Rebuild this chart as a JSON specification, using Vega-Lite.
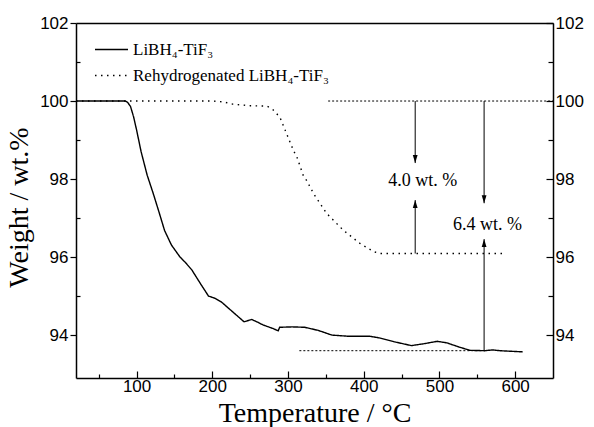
{
  "$schema": "https://vega.github.io/schema/vega-lite/v6.json",
  "width": 477,
  "height": 355,
  "autosize": {"type": "none"},
  "padding": {"left": 76, "top": 23, "right": 41, "bottom": 49},
  "background": "white",
  "config": {
    "view": {"stroke": null},
    "axis": {
      "domainColor": "black", "tickColor": "black", "labelColor": "black", "titleColor": "black",
      "grid": false, "labelFont": "Liberation Sans", "labelFontSize": 17,
      "titleFont": "Liberation Serif", "titleFontSize": 28, "titleFontWeight": "normal",
      "domainWidth": 1.5, "tickWidth": 1.2, "labelOverlap": false, "labelFlush": false
    }
  },
  "datasets": {
    "curves": [
      {"T": 20, "w": 100, "s": "LiBH₄-TiF₃"},
      {"T": 60, "w": 100, "s": "LiBH₄-TiF₃"},
      {"T": 85, "w": 100, "s": "LiBH₄-TiF₃"},
      {"T": 88, "w": 99.97, "s": "LiBH₄-TiF₃"},
      {"T": 92, "w": 99.86, "s": "LiBH₄-TiF₃"},
      {"T": 96, "w": 99.6, "s": "LiBH₄-TiF₃"},
      {"T": 100, "w": 99.26, "s": "LiBH₄-TiF₃"},
      {"T": 106, "w": 98.7, "s": "LiBH₄-TiF₃"},
      {"T": 114, "w": 98.1, "s": "LiBH₄-TiF₃"},
      {"T": 122, "w": 97.63, "s": "LiBH₄-TiF₃"},
      {"T": 130, "w": 97.13, "s": "LiBH₄-TiF₃"},
      {"T": 137, "w": 96.68, "s": "LiBH₄-TiF₃"},
      {"T": 146, "w": 96.31, "s": "LiBH₄-TiF₃"},
      {"T": 157, "w": 96.01, "s": "LiBH₄-TiF₃"},
      {"T": 165, "w": 95.85, "s": "LiBH₄-TiF₃"},
      {"T": 173, "w": 95.67, "s": "LiBH₄-TiF₃"},
      {"T": 184, "w": 95.33, "s": "LiBH₄-TiF₃"},
      {"T": 195, "w": 95.0, "s": "LiBH₄-TiF₃"},
      {"T": 204, "w": 94.94, "s": "LiBH₄-TiF₃"},
      {"T": 212, "w": 94.85, "s": "LiBH₄-TiF₃"},
      {"T": 219, "w": 94.73, "s": "LiBH₄-TiF₃"},
      {"T": 232, "w": 94.51, "s": "LiBH₄-TiF₃"},
      {"T": 242, "w": 94.34, "s": "LiBH₄-TiF₃"},
      {"T": 252, "w": 94.4, "s": "LiBH₄-TiF₃"},
      {"T": 260, "w": 94.33, "s": "LiBH₄-TiF₃"},
      {"T": 267, "w": 94.26, "s": "LiBH₄-TiF₃"},
      {"T": 280, "w": 94.17, "s": "LiBH₄-TiF₃"},
      {"T": 287, "w": 94.11, "s": "LiBH₄-TiF₃"},
      {"T": 289, "w": 94.2, "s": "LiBH₄-TiF₃"},
      {"T": 305, "w": 94.21, "s": "LiBH₄-TiF₃"},
      {"T": 322, "w": 94.2, "s": "LiBH₄-TiF₃"},
      {"T": 340, "w": 94.12, "s": "LiBH₄-TiF₃"},
      {"T": 358, "w": 94.0, "s": "LiBH₄-TiF₃"},
      {"T": 380, "w": 93.97, "s": "LiBH₄-TiF₃"},
      {"T": 408, "w": 93.97, "s": "LiBH₄-TiF₃"},
      {"T": 420, "w": 93.93, "s": "LiBH₄-TiF₃"},
      {"T": 440, "w": 93.83, "s": "LiBH₄-TiF₃"},
      {"T": 463, "w": 93.73, "s": "LiBH₄-TiF₃"},
      {"T": 480, "w": 93.78, "s": "LiBH₄-TiF₃"},
      {"T": 497, "w": 93.84, "s": "LiBH₄-TiF₃"},
      {"T": 510, "w": 93.8, "s": "LiBH₄-TiF₃"},
      {"T": 525, "w": 93.7, "s": "LiBH₄-TiF₃"},
      {"T": 540, "w": 93.61, "s": "LiBH₄-TiF₃"},
      {"T": 560, "w": 93.6, "s": "LiBH₄-TiF₃"},
      {"T": 570, "w": 93.62, "s": "LiBH₄-TiF₃"},
      {"T": 580, "w": 93.6, "s": "LiBH₄-TiF₃"},
      {"T": 600, "w": 93.58, "s": "LiBH₄-TiF₃"},
      {"T": 610, "w": 93.57, "s": "LiBH₄-TiF₃"},
      {"T": 20, "w": 100, "s": "Rehydrogenated LiBH₄-TiF₃"},
      {"T": 150, "w": 100, "s": "Rehydrogenated LiBH₄-TiF₃"},
      {"T": 200, "w": 100, "s": "Rehydrogenated LiBH₄-TiF₃"},
      {"T": 214, "w": 99.98, "s": "Rehydrogenated LiBH₄-TiF₃"},
      {"T": 227, "w": 99.92, "s": "Rehydrogenated LiBH₄-TiF₃"},
      {"T": 250, "w": 99.88, "s": "Rehydrogenated LiBH₄-TiF₃"},
      {"T": 272, "w": 99.87, "s": "Rehydrogenated LiBH₄-TiF₃"},
      {"T": 279, "w": 99.8, "s": "Rehydrogenated LiBH₄-TiF₃"},
      {"T": 285, "w": 99.68, "s": "Rehydrogenated LiBH₄-TiF₃"},
      {"T": 290, "w": 99.55, "s": "Rehydrogenated LiBH₄-TiF₃"},
      {"T": 298, "w": 99.17, "s": "Rehydrogenated LiBH₄-TiF₃"},
      {"T": 307, "w": 98.74, "s": "Rehydrogenated LiBH₄-TiF₃"},
      {"T": 312, "w": 98.55, "s": "Rehydrogenated LiBH₄-TiF₃"},
      {"T": 320, "w": 98.1, "s": "Rehydrogenated LiBH₄-TiF₃"},
      {"T": 325, "w": 97.95, "s": "Rehydrogenated LiBH₄-TiF₃"},
      {"T": 334, "w": 97.62, "s": "Rehydrogenated LiBH₄-TiF₃"},
      {"T": 351, "w": 97.12, "s": "Rehydrogenated LiBH₄-TiF₃"},
      {"T": 373, "w": 96.69, "s": "Rehydrogenated LiBH₄-TiF₃"},
      {"T": 395, "w": 96.35, "s": "Rehydrogenated LiBH₄-TiF₃"},
      {"T": 413, "w": 96.14, "s": "Rehydrogenated LiBH₄-TiF₃"},
      {"T": 421, "w": 96.09, "s": "Rehydrogenated LiBH₄-TiF₃"},
      {"T": 588, "w": 96.09, "s": "Rehydrogenated LiBH₄-TiF₃"}
    ],
    "guides": [
      {"x1": 353, "x2": 650, "y": 100},
      {"x1": 315, "x2": 560, "y": 93.6}
    ],
    "arrows": [
      {"x": 468, "y1": 100, "y2": 98.41, "dir": "down"},
      {"x": 468, "y1": 96.09, "y2": 97.46, "dir": "up"},
      {"x": 559, "y1": 100, "y2": 97.38, "dir": "down"},
      {"x": 559, "y1": 93.6, "y2": 96.46, "dir": "up"}
    ],
    "labels": [
      {"x": 478, "y": 97.95, "t": "4.0 wt. %"},
      {"x": 563.5, "y": 96.81, "t": "6.4 wt. %"}
    ]
  },
  "layer": [
    {
      "data": {"name": "curves"},
      "mark": {"type": "line", "color": "black", "strokeWidth": 1.4},
      "encoding": {
        "x": {
          "field": "T", "type": "quantitative",
          "scale": {"domain": [20, 650], "nice": false, "zero": false},
          "axis": {
            "orient": "bottom", "title": "Temperature / °C",
            "values": [50, 100, 150, 200, 250, 300, 350, 400, 450, 500, 550, 600],
            "labelExpr": "datum.value % 100 === 0 ? datum.label : ''",
            "tickSize": {"condition": {"test": "datum.value % 100 === 0", "value": -7}, "value": -4},
            "labelPadding": 7, "titlePadding": 2
          }
        },
        "y": {
          "field": "w", "type": "quantitative",
          "scale": {"domain": [92.9, 102], "nice": false, "zero": false},
          "axis": {
            "orient": "left", "title": "Weight / wt.%",
            "values": [94, 95, 96, 97, 98, 99, 100, 101, 102],
            "labelExpr": "datum.value % 2 === 0 ? datum.label : ''",
            "tickSize": {"condition": {"test": "datum.value % 2 === 0", "value": 6}, "value": -4},
            "labelPadding": 2, "titlePadding": 6, "titleY": 184
          }
        },
        "strokeDash": {
          "field": "s", "type": "nominal",
          "scale": {"domain": ["LiBH₄-TiF₃", "Rehydrogenated LiBH₄-TiF₃"], "range": [[1, 0], [1.5, 4.5]]},
          "legend": {
            "orient": "none", "legendX": 18, "legendY": 9, "title": null,
            "symbolType": "stroke", "symbolSize": 1089, "symbolStrokeWidth": 1.4, "symbolStrokeColor": "black",
            "labelFont": "Liberation Serif", "labelFontSize": 17, "labelColor": "black", "labelLimit": 400,
            "labelOffset": 4, "rowPadding": -9, "padding": 0
          }
        }
      }
    },
    {
      "data": {"name": "guides"},
      "mark": {"type": "rule", "color": "black", "strokeWidth": 1, "strokeDash": [2, 2]},
      "encoding": {
        "x": {
          "field": "x1", "type": "quantitative",
          "axis": {"orient": "top", "labels": false, "ticks": false, "title": null}
        },
        "x2": {"field": "x2"},
        "y": {
          "field": "y", "type": "quantitative",
          "axis": {
            "orient": "right", "title": null,
            "values": [94, 95, 96, 97, 98, 99, 100, 101, 102],
            "labelExpr": "datum.value % 2 === 0 ? datum.label : ''",
            "tickSize": {"condition": {"test": "datum.value % 2 === 0", "value": -7}, "value": -5},
            "labelPadding": 9
          }
        }
      }
    },
    {
      "data": {"name": "arrows"},
      "mark": {"type": "rule", "color": "black", "strokeWidth": 1},
      "encoding": {
        "x": {"field": "x", "type": "quantitative", "axis": null},
        "y": {"field": "y1", "type": "quantitative", "axis": null},
        "y2": {"field": "y2"}
      }
    },
    {
      "data": {"name": "arrows"},
      "mark": {"type": "point", "filled": true, "color": "black", "opacity": 1, "size": 64},
      "encoding": {
        "x": {"field": "x", "type": "quantitative", "axis": null},
        "y": {"field": "y2", "type": "quantitative", "axis": null},
        "shape": {
          "field": "dir", "type": "nominal", "legend": null,
          "scale": {"domain": ["down", "up"], "range": ["M-0.6,-2L0.6,-2L0,0Z", "M-0.6,2L0.6,2L0,0Z"]}
        }
      }
    },
    {
      "data": {"name": "labels"},
      "mark": {"type": "text", "font": "Liberation Serif", "fontSize": 18, "color": "black", "align": "center", "baseline": "middle"},
      "encoding": {
        "x": {"field": "x", "type": "quantitative", "axis": null},
        "y": {"field": "y", "type": "quantitative", "axis": null},
        "text": {"field": "t"}
      }
    }
  ],
  "resolve": {"axis": {"x": "independent", "y": "independent"}}
}
